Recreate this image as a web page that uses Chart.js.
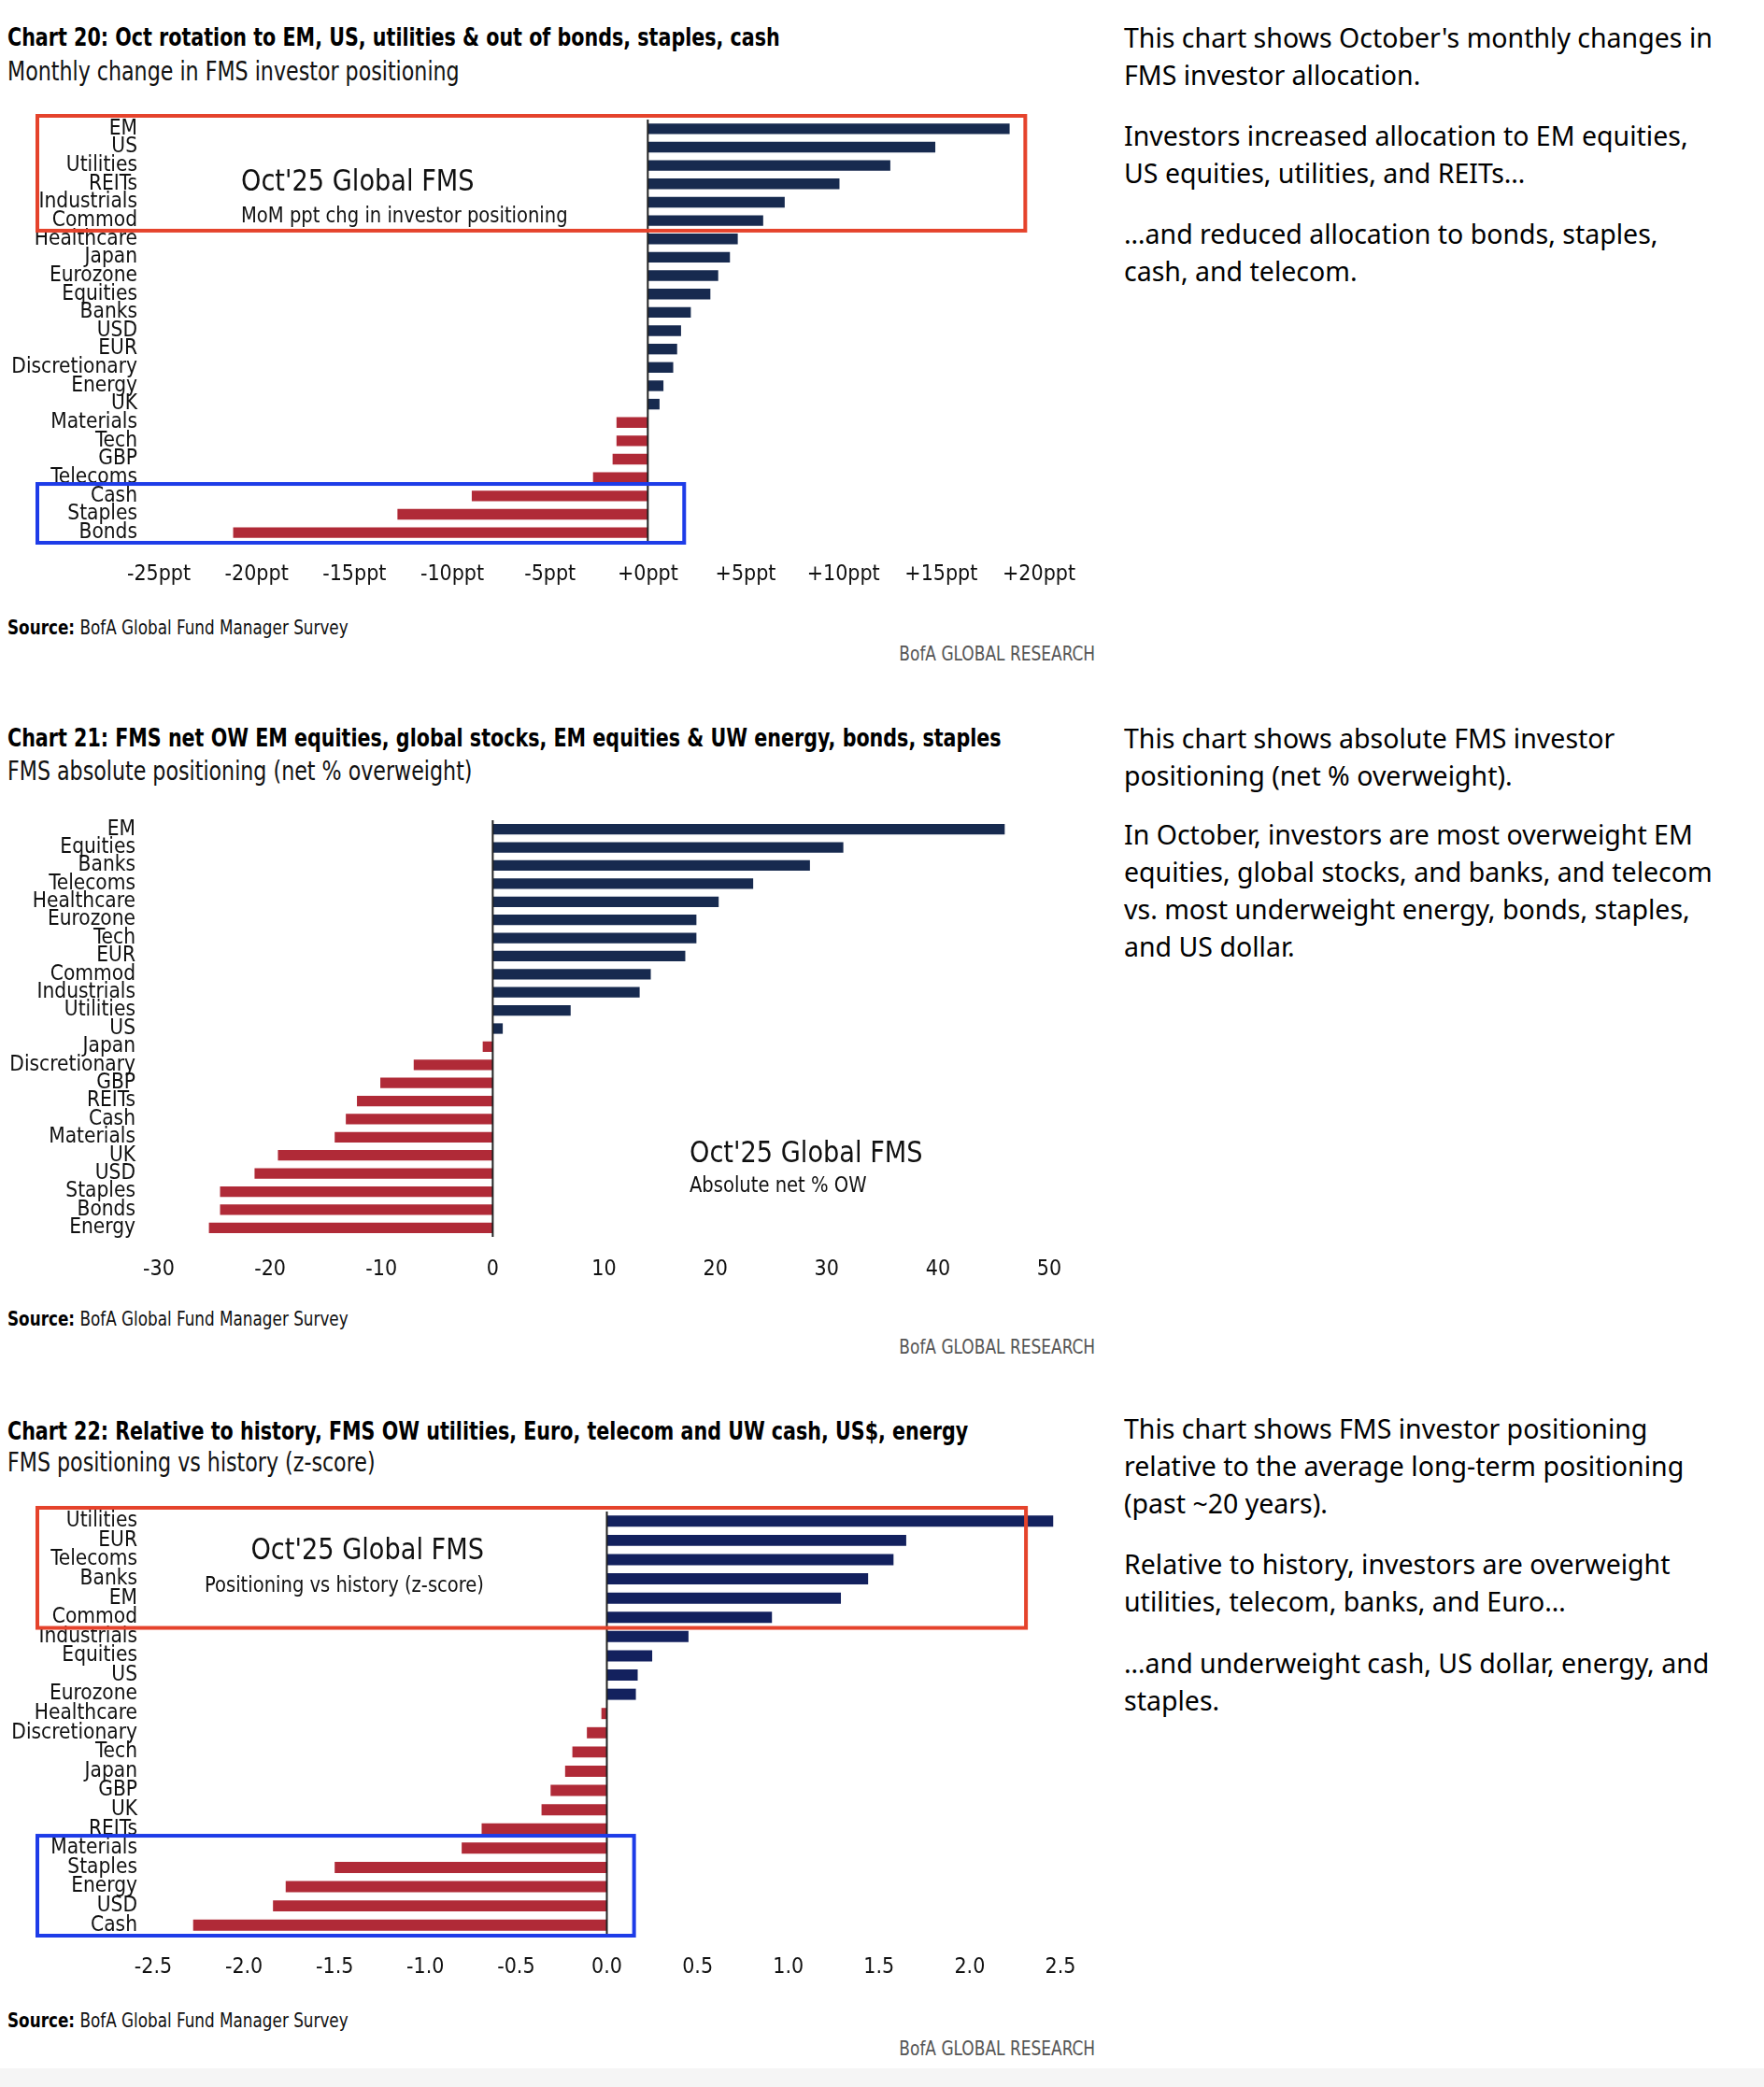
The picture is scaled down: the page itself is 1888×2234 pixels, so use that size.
<!DOCTYPE html>
<html>
<head>
<meta charset="utf-8">
<script src="https://cdn.jsdelivr.net/npm/chart.js@4.4.1/dist/chart.umd.min.js"></script>
<style>
  body { margin: 0; background: #fff; }
  #page { position: relative; width: 1888px; height: 2234px; overflow: hidden; background: #fff; }
  .abs { position: absolute; white-space: nowrap; color: #111; }
  .title { left: 8px; font: bold 27px "DejaVu Sans Condensed", "Liberation Sans Narrow", sans-serif; line-height: 34px; color: #000; transform: scaleX(0.85); transform-origin: 0 0; }
  .sub { left: 8px; font: 28px "DejaVu Sans Condensed", "Liberation Sans Narrow", sans-serif; line-height: 34px; transform: scaleX(0.88); transform-origin: 0 0; }
  .note { left: 1203px; font: 28.5px "Noto Sans", "Open Sans", sans-serif; line-height: 40px; color: #000; }
  .src { left: 8px; font: 22px "DejaVu Sans Condensed", sans-serif; line-height: 26px; transform: scaleX(0.85); transform-origin: 0 0; }
  .src b { color: #000; }
  .brand { right: 716px; font: 21px "DejaVu Sans Condensed", sans-serif; line-height: 26px; color: #555; transform: scaleX(0.9); transform-origin: 100% 0; }
  canvas { position: absolute; left: 0; }
  #foot { position: absolute; left: 0; top: 2214px; width: 1888px; height: 20px; background: #f5f5f5; }
</style>
</head>
<body>
<div id="page">
  <div class="abs title" style="top:23px">Chart 20: Oct rotation to EM, US, utilities &amp; out of bonds, staples, cash</div>
  <div class="abs sub" style="top:60px">Monthly change in FMS investor positioning</div>
  <div class="abs note" style="top:20px">This chart shows October's monthly changes in<br>FMS investor allocation.</div>
  <div class="abs note" style="top:125px">Investors increased allocation to EM equities,<br>US equities, utilities, and REITs…</div>
  <div class="abs note" style="top:230px">…and reduced allocation to bonds, staples,<br>cash, and telecom.</div>
  <canvas id="c20" width="1190" height="539" style="top:101px;width:1190px;height:539px"></canvas>
  <div class="abs src" style="top:659px"><b>Source:</b> BofA Global Fund Manager Survey</div>
  <div class="abs brand" style="top:687px">BofA GLOBAL RESEARCH</div>

  <div class="abs title" style="top:773px">Chart 21: FMS net OW EM equities, global stocks, EM equities &amp; UW energy, bonds, staples</div>
  <div class="abs sub" style="top:809px">FMS absolute positioning (net % overweight)</div>
  <div class="abs note" style="top:770px">This chart shows absolute FMS investor<br>positioning (net % overweight).</div>
  <div class="abs note" style="top:873px">In October, investors are most overweight EM<br>equities, global stocks, and banks, and telecom<br>vs. most underweight energy, bonds, staples,<br>and US dollar.</div>
  <canvas id="c21" width="1190" height="533" style="top:851px;width:1190px;height:533px"></canvas>
  <div class="abs src" style="top:1399px"><b>Source:</b> BofA Global Fund Manager Survey</div>
  <div class="abs brand" style="top:1429px">BofA GLOBAL RESEARCH</div>

  <div class="abs title" style="top:1515px">Chart 22: Relative to history, FMS OW utilities, Euro, telecom and UW cash, US$, energy</div>
  <div class="abs sub" style="top:1549px">FMS positioning vs history (z-score)</div>
  <div class="abs note" style="top:1509px">This chart shows FMS investor positioning<br>relative to the average long-term positioning<br>(past ~20 years).</div>
  <div class="abs note" style="top:1654px">Relative to history, investors are overweight<br>utilities, telecom, banks, and Euro…</div>
  <div class="abs note" style="top:1760px">…and underweight cash, US dollar, energy, and<br>staples.</div>
  <canvas id="c22" width="1190" height="540" style="top:1591px;width:1190px;height:540px"></canvas>
  <div class="abs src" style="top:2150px"><b>Source:</b> BofA Global Fund Manager Survey</div>
  <div class="abs brand" style="top:2180px">BofA GLOBAL RESEARCH</div>
  <div id="foot"></div>
</div>

<script>
// Chart 20 : variation mensuelle (ppt)
const chart20Labels = ['EM', 'US', 'Utilities', 'REITs', 'Industrials', 'Commod', 'Healthcare', 'Japan', 'Eurozone', 'Equities', 'Banks', 'USD', 'EUR', 'Discretionary', 'Energy', 'UK', 'Materials', 'Tech', 'GBP', 'Telecoms', 'Cash', 'Staples', 'Bonds'];
const chart20Values = [18.5, 14.7, 12.4, 9.8, 7.0, 5.9, 4.6, 4.2, 3.6, 3.2, 2.2, 1.7, 1.5, 1.3, 0.8, 0.6, -1.6, -1.6, -1.8, -2.8, -9.0, -12.8, -21.2];

// Chart 21 : positionnement absolu (net % OW)
const chart21Labels = ['EM', 'Equities', 'Banks', 'Telecoms', 'Healthcare', 'Eurozone', 'Tech', 'EUR', 'Commod', 'Industrials', 'Utilities', 'US', 'Japan', 'Discretionary', 'GBP', 'REITs', 'Cash', 'Materials', 'UK', 'USD', 'Staples', 'Bonds', 'Energy'];
const chart21Values = [46, 31.5, 28.5, 23.4, 20.3, 18.3, 18.3, 17.3, 14.2, 13.2, 7.0, 0.9, -0.9, -7.1, -10.1, -12.2, -13.2, -14.2, -19.3, -21.4, -24.5, -24.5, -25.5];

// Chart 22 : z-score vs historique
const chart22Labels = ['Utilities', 'EUR', 'Telecoms', 'Banks', 'EM', 'Commod', 'Industrials', 'Equities', 'US', 'Eurozone', 'Healthcare', 'Discretionary', 'Tech', 'Japan', 'GBP', 'UK', 'REITs', 'Materials', 'Staples', 'Energy', 'USD', 'Cash'];
const chart22Values = [2.46, 1.65, 1.58, 1.44, 1.29, 0.91, 0.45, 0.25, 0.17, 0.16, -0.03, -0.11, -0.19, -0.23, -0.31, -0.36, -0.69, -0.80, -1.50, -1.77, -1.84, -2.28];

const RED = '#b02a37';
const BOX_RED = '#e5432c';
const BOX_BLUE = '#1e3ce8';
const NARROW = '"DejaVu Sans Condensed", "Liberation Sans Narrow", sans-serif';

// Plugin : ligne du zéro, encadrés, texte "Oct'25 Global FMS"
const overlayPlugin = {
    id: 'overlay',
    afterDatasetsDraw(chart, args, opts) {
        const { ctx, chartArea, scales: { x, y } } = chart;
        const labels = chart.data.labels;
        ctx.save();
        const x0 = x.getPixelForValue(0);
        ctx.strokeStyle = '#222';
        ctx.lineWidth = 2;
        ctx.beginPath();
        ctx.moveTo(x0, chartArea.top);
        ctx.lineTo(x0, chartArea.bottom);
        ctx.stroke();

        const step = y.getPixelForValue(1) - y.getPixelForValue(0);
        (opts.boxes || []).forEach(b => {
            const i0 = labels.indexOf(b.from);
            const i1 = labels.indexOf(b.to);
            const top = y.getPixelForValue(i0) - step / 2 - (i0 === 0 ? 4 : 3);
            const bottom = y.getPixelForValue(i1) + step / 2 + 1;
            const right = x.getPixelForValue(b.xMax);
            ctx.strokeStyle = b.color;
            ctx.lineWidth = 4;
            ctx.strokeRect(40, top, right - 40, bottom - top);
        });

        // textes un peu resserrés pour imiter la police condensée
        (opts.texts || []).forEach(t => {
            ctx.save();
            ctx.fillStyle = '#111';
            ctx.font = t.size + 'px ' + NARROW;
            ctx.textAlign = t.align;
            ctx.textBaseline = 'middle';
            ctx.translate(t.x, t.y);
            ctx.scale(0.945, 1);
            ctx.fillText(t.text, 0, 0);
            ctx.restore();
        });
        ctx.restore();
    }
};

function makeChart(id, labels, values, cfg) {
    const ctx = document.getElementById(id).getContext('2d');
    return new Chart(ctx, {
        type: 'bar',
        data: {
            labels: labels,
            datasets: [{
                data: values,
                backgroundColor: values.map(v => v >= 0 ? cfg.navy : RED),
                borderWidth: 0,
                barPercentage: 0.58,
                categoryPercentage: 1
            }]
        },
        plugins: [overlayPlugin],
        options: {
            indexAxis: 'y',
            responsive: false,
            animation: false,
            devicePixelRatio: 1,
            layout: { padding: { top: 27, right: cfg.padRight, bottom: 0, left: 0 } },
            plugins: {
                legend: { display: false },
                tooltip: { enabled: false },
                overlay: { boxes: cfg.boxes, texts: cfg.texts }
            },
            scales: {
                x: {
                    min: cfg.min,
                    max: cfg.max,
                    grid: { display: false, drawTicks: false },
                    border: { display: false },
                    ticks: {
                        stepSize: cfg.step,
                        padding: 21,
                        color: '#111',
                        font: { family: NARROW, size: 23 },
                        callback: cfg.fmt
                    },
                    afterFit(scale) {
                        scale.height = 60;
                        scale.paddingLeft = 0;
                        scale.paddingRight = 0;
                    }
                },
                y: {
                    grid: { display: false, drawTicks: false },
                    border: { display: false },
                    ticks: {
                        autoSkip: false,
                        padding: cfg.labelPad,
                        color: '#111',
                        font: { family: NARROW, size: 22.5 }
                    },
                    afterFit(scale) {
                        scale.width = cfg.axisWidth;
                        scale.paddingTop = 0;
                        scale.paddingBottom = 0;
                    }
                }
            }
        }
    });
}

makeChart('c20', chart20Labels, chart20Values, {
    navy: '#172a4f', min: -25, max: 20, step: 5, axisWidth: 170, labelPad: 23, padRight: 78,
    fmt: v => (v >= 0 ? '+' : '') + v + 'ppt',
    boxes: [
        { from: 'EM', to: 'Commod', xMax: 19.3, color: BOX_RED },
        { from: 'Cash', to: 'Bonds', xMax: 1.86, color: BOX_BLUE }
    ],
    texts: [
        { text: "Oct'25 Global FMS", x: 258, y: 95, size: 32, align: 'left' },
        { text: 'MoM ppt chg in investor positioning', x: 258, y: 131, size: 23, align: 'left' }
    ]
});

makeChart('c21', chart21Labels, chart21Values, {
    navy: '#172a4f', min: -30, max: 50, step: 10, axisWidth: 170, labelPad: 25, padRight: 67,
    fmt: v => String(v),
    boxes: [],
    texts: [
        { text: "Oct'25 Global FMS", x: 738, y: 385, size: 32, align: 'left' },
        { text: 'Absolute net % OW', x: 738, y: 419, size: 23, align: 'left' }
    ]
});

makeChart('c22', chart22Labels, chart22Values, {
    navy: '#13215e', min: -2.5, max: 2.5, step: 0.5, axisWidth: 164, labelPad: 17, padRight: 55,
    fmt: v => v.toFixed(1),
    boxes: [
        { from: 'Utilities', to: 'Commod', xMax: 2.31, color: BOX_RED },
        { from: 'Materials', to: 'Cash', xMax: 0.15, color: BOX_BLUE }
    ],
    texts: [
        { text: "Oct'25 Global FMS", x: 518, y: 70, size: 32, align: 'right' },
        { text: 'Positioning vs history (z-score)', x: 518, y: 107, size: 23, align: 'right' }
    ]
});
</script>
</body>
</html>
